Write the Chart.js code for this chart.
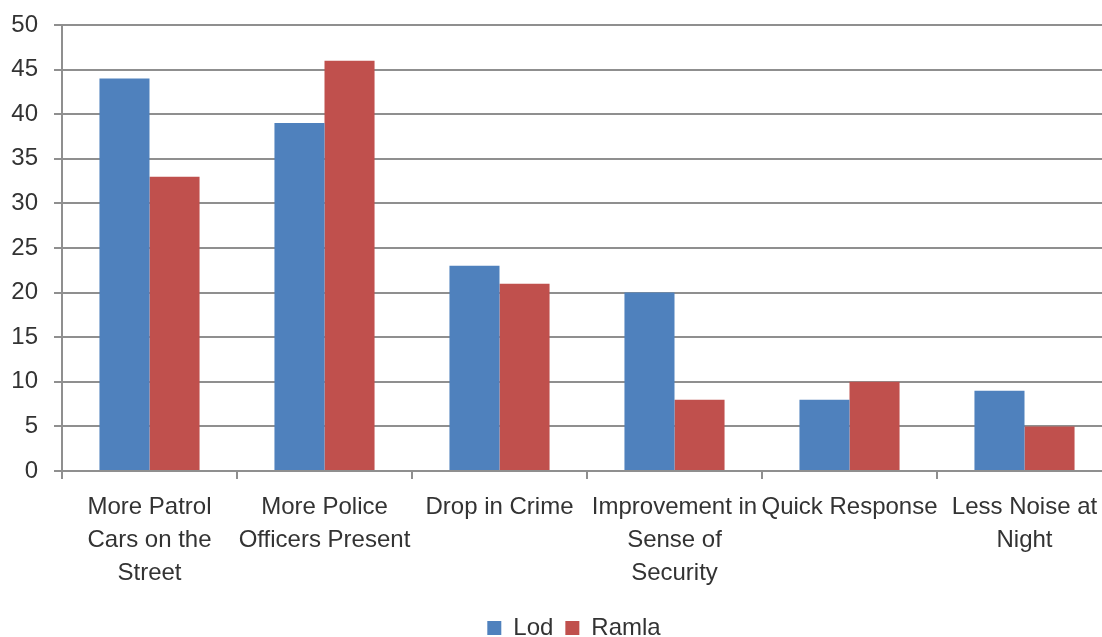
<!DOCTYPE html>
<html>
<head>
<meta charset="utf-8">
<script src="https://cdn.jsdelivr.net/npm/chart.js@4/dist/chart.umd.min.js"></script>
<style>
  html, body { margin: 0; padding: 0; background: #fff; overflow: hidden; }
  #wrap { position: absolute; left: 0; top: 0; width: 1120px; height: 650px; }
</style>
</head>
<body>
<div id="wrap"><canvas id="chart" width="1120" height="650"></canvas></div>
<script>
const categories = [
  ["More Patrol", "Cars on the", "Street"],
  ["More Police", "Officers Present"],
  ["Drop in Crime"],
  ["Improvement in", "Sense of", "Security"],
  ["Quick Response"],
  ["Less Noise at", "Night"]
];
const lod = [44, 39, 23, 20, 8, 9];
const ramla = [33, 46, 21, 8, 10, 5];
const yTicks = [0, 5, 10, 15, 20, 25, 30, 35, 40, 45, 50];

const FONT = "'Liberation Sans', Arial, sans-serif";
const TEXT = "#333333";
const GRID = "#8f8f8f";

// nudge the legend row a little right of the canvas centre
const legendShift = {
  id: "legendShift",
  afterLayout(chart) {
    if (chart.legend) {
      chart.legend.left += 18;
      chart.legend.right += 18;
    }
  }
};

new Chart(document.getElementById("chart").getContext("2d"), {
  type: "bar",
  data: {
    labels: categories,
    datasets: [
      { label: "Lod", data: lod, backgroundColor: "#4F81BD" },
      { label: "Ramla", data: ramla, backgroundColor: "#C0504D" }
    ]
  },
  options: {
    responsive: false,
    animation: false,
    categoryPercentage: 0.572,
    barPercentage: 1,
    layout: { padding: { top: 0, right: 8, left: 0, bottom: 0 } },
    scales: {
      x: {
        grid: {
          display: true,
          drawOnChartArea: false,
          drawTicks: true,
          tickLength: 8,
          color: GRID,
          lineWidth: 2,
          offset: true
        },
        border: { color: GRID, width: 2 },
        ticks: {
          color: TEXT,
          font: { family: FONT, size: 24, lineHeight: 1.37 },
          padding: 12,
          maxRotation: 0,
          autoSkip: false
        },
        afterFit: scale => { scale.height = 133; }
      },
      y: {
        min: 0,
        max: 50,
        afterBuildTicks: scale => { scale.ticks = yTicks.map(v => ({ value: v })); },
        grid: { color: GRID, lineWidth: 2, tickLength: 8 },
        border: { color: GRID, width: 2 },
        ticks: {
          color: TEXT,
          font: { family: FONT, size: 24, lineHeight: 0.75 },
          padding: 16
        },
        afterFit: scale => { scale.width = 62; }
      }
    },
    plugins: {
      legend: {
        position: "bottom",
        labels: {
          color: TEXT,
          font: { family: FONT, size: 24 },
          boxWidth: 14,
          boxHeight: 14,
          padding: 12
        }
      },
      tooltip: { enabled: false }
    }
  },
  plugins: [legendShift]
});
</script>
</body>
</html>
